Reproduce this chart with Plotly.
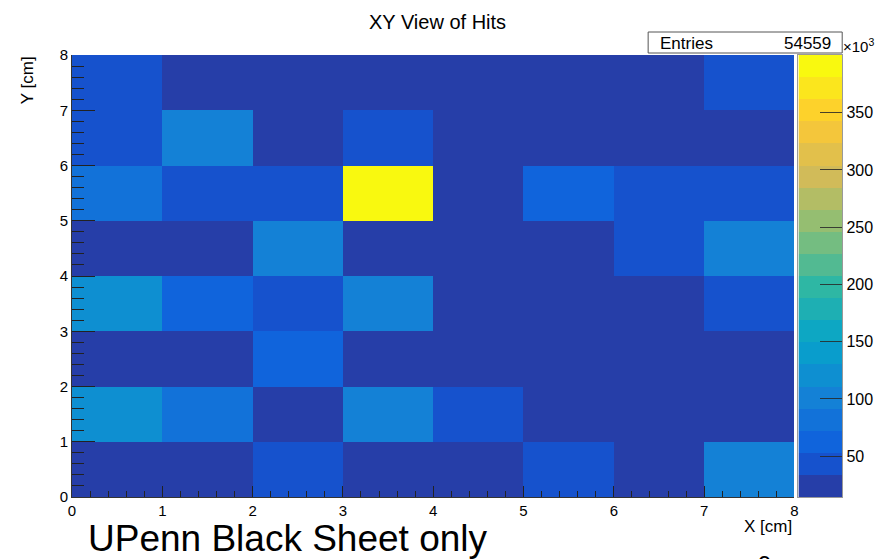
import plotly.graph_objects as go
import math

# ---- data (values in units of 10^3) ----
x_centers = [0.5, 1.5, 2.5, 3.5, 4.5, 5.5, 6.5, 7.5]
y_centers = [0.5, 1.5, 2.5, 3.5, 4.5, 5.5, 6.5, 7.5]
# rows: y bin 0-1 (bottom) ... y bin 7-8 (top); columns: x bin 0-1 ... 7-8
row_y0 = [22.5, 19.8, 44.1, 25.3, 27.9, 43.2, 24.6, 101.5]
row_y1 = [121.3, 82.7, 23.4, 98.9, 42.6, 28.1, 20.7, 18.9]
row_y2 = [26.2, 24.8, 63.5, 21.6, 17.3, 19.4, 16.8, 15.9]
row_y3 = [119.6, 61.8, 45.2, 97.4, 25.7, 18.2, 17.6, 43.8]
row_y4 = [28.3, 26.9, 100.2, 23.1, 20.5, 16.1, 44.9, 96.8]
row_y5 = [81.4, 46.7, 47.3, 400.4, 29.8, 66.2, 42.1, 45.6]
row_y6 = [39.8, 96.3, 21.9, 41.7, 22.2, 19.1, 18.3, 14.4]
row_y7 = [43.5, 24.3, 21.2, 23.8, 17.9, 16.4, 15.2, 40.9]
z_rows = [row_y0, row_y1, row_y2, row_y3, row_y4, row_y5, row_y6, row_y7]

x_ticks = [0, 1, 2, 3, 4, 5, 6, 7, 8]
y_ticks = [0, 1, 2, 3, 4, 5, 6, 7, 8]
z_ticks = [50, 100, 150, 200, 250, 300, 350]
entries = 54559
z_min, z_max = 14.4, 400.4

# ---- ROOT kBird palette (255 colours, 20 contour levels) ----
stops = [0.0, 0.125, 0.25, 0.375, 0.5, 0.625, 0.75, 0.875, 1.0]
red = [0.2082, 0.0592, 0.0780, 0.0232, 0.1802, 0.5301, 0.8186, 0.9956, 0.9764]
green = [0.1664, 0.3599, 0.5041, 0.6419, 0.7178, 0.7492, 0.7328, 0.7862, 0.9832]
blue = [0.5293, 0.8684, 0.8385, 0.7914, 0.6425, 0.4662, 0.3499, 0.1968, 0.0539]
ncol = 255
palette = []
for g in range(1, len(stops)):
    n = int(math.floor(ncol * stops[g]) - math.floor(ncol * stops[g - 1]))
    for c in range(n):
        r = red[g - 1] + c * (red[g] - red[g - 1]) / n
        gg = green[g - 1] + c * (green[g] - green[g - 1]) / n
        b = blue[g - 1] + c * (blue[g] - blue[g - 1]) / n
        palette.append("rgb(%d,%d,%d)" % (round(r * 255), round(gg * 255), round(b * 255)))
ndivz = 20
colorscale = []
for k in range(ndivz):
    idx = int((k + 0.99) * ncol / ndivz)
    col = palette[min(idx, len(palette) - 1)]
    colorscale.append([k / ndivz, col])
    colorscale.append([(k + 1) / ndivz, col])

# colour-bar levels (one cell per contour band)
band_w = (z_max - z_min) / ndivz
band_centers = [z_min + band_w * (k + 0.5) for k in range(ndivz)]

# ---- geometry helpers (pixel -> paper) ----
W, H = 891, 559
ML, MR, MT, MB = 72, 5, 55, 62
PW = W - ML - MR
PH = H - MT - MB
def px(p):
    return (p - ML) / PW
def py(p):
    return (H - MB - p) / PH

font_fam = "Liberation Sans, Arial, sans-serif"

fig = go.Figure()
fig.add_trace(go.Heatmap(
    x=x_centers, y=y_centers, z=z_rows,
    zmin=z_min, zmax=z_max, colorscale=colorscale,
    showscale=False, hoverinfo="skip",
    xaxis="x", yaxis="y",
))
# palette (colour bar) drawn on its own axis pair
fig.add_trace(go.Heatmap(
    x=[0], y=band_centers, z=[[v] for v in band_centers],
    zmin=z_min, zmax=z_max, colorscale=colorscale,
    showscale=False, hoverinfo="skip",
    xaxis="x2", yaxis="y2",
))

tick_font = dict(family=font_fam, size=15, color="black")
axis_common = dict(
    range=[0, 8], showgrid=False, zeroline=False,
    showline=True, linecolor="#333333", linewidth=1,
    ticks="inside", tickcolor="#222222", tickwidth=1,
    tickmode="array", tickfont=tick_font,
)

fig.update_layout(
    width=W, height=H,
    margin=dict(l=ML, r=MR, t=MT, b=MB),
    paper_bgcolor="white", plot_bgcolor="white",
    showlegend=False,
    xaxis=dict(**axis_common, domain=[0, px(798)], tickvals=x_ticks, ticklen=11,
               minor=dict(ticks="inside", ticklen=6, dtick=0.2, tick0=0,
                          tickcolor="#222222", showgrid=False)),
    yaxis=dict(**axis_common, domain=[0, 1], tickvals=y_ticks, ticklen=23,
               minor=dict(ticks="inside", ticklen=12, dtick=0.2, tick0=0,
                          tickcolor="#222222", showgrid=False)),
    xaxis2=dict(domain=[px(802), px(846)], range=[-0.5, 0.5], anchor="y2",
                showticklabels=False, ticks="", showgrid=False, zeroline=False,
                showline=True, linecolor="#999999", linewidth=1, mirror=True),
    yaxis2=dict(domain=[0, 1], range=[z_min, z_max], anchor="x2", side="right",
                tickmode="array", tickvals=z_ticks,
                ticks="inside", ticklen=22, tickwidth=1, tickcolor="rgba(40,40,40,0.85)",
                tickfont=dict(family=font_fam, size=16, color="black"),
                showgrid=False, zeroline=False,
                showline=True, linecolor="#999999", linewidth=1, mirror=True),
)

annotations = [
    dict(text="XY View of Hits", x=px(439), y=py(22), xanchor="center", yanchor="middle",
         font=dict(family=font_fam, size=20, color="black")),
    dict(text="X [cm]", x=px(798), y=py(526), xanchor="right", yanchor="middle",
         font=dict(family=font_fam, size=17, color="black")),
    dict(text="Y [cm]", x=px(27), y=py(80), xanchor="center", yanchor="middle", textangle=-90,
         font=dict(family=font_fam, size=17, color="black")),
    dict(text="Entries", x=px(661), y=py(43), xanchor="left", yanchor="middle",
         font=dict(family=font_fam, size=17, color="black")),
    dict(text=str(entries), x=px(837), y=py(43), xanchor="right", yanchor="middle",
         font=dict(family=font_fam, size=17, color="black")),
    dict(text="\u00d710<sup>3</sup>", x=px(845), y=py(45), xanchor="left", yanchor="middle",
         font=dict(family=font_fam, size=15, color="black")),
    dict(text="UPenn Black Sheet only", x=px(86), y=py(538), xanchor="left", yanchor="middle",
         font=dict(family=font_fam, size=37, color="black")),
    dict(text="9", x=px(768), y=py(549), xanchor="center", yanchor="top",
         font=dict(family=font_fam, size=24, color="black")),
]
for a in annotations:
    a.update(xref="paper", yref="paper", showarrow=False)

fig.update_layout(
    annotations=annotations,
    shapes=[dict(type="rect", xref="paper", yref="paper",
                 x0=px(651), x1=px(846), y0=py(53), y1=py(32),
                 line=dict(color="#555555", width=1), fillcolor="white")],
)

fig.write_html("out.html")
